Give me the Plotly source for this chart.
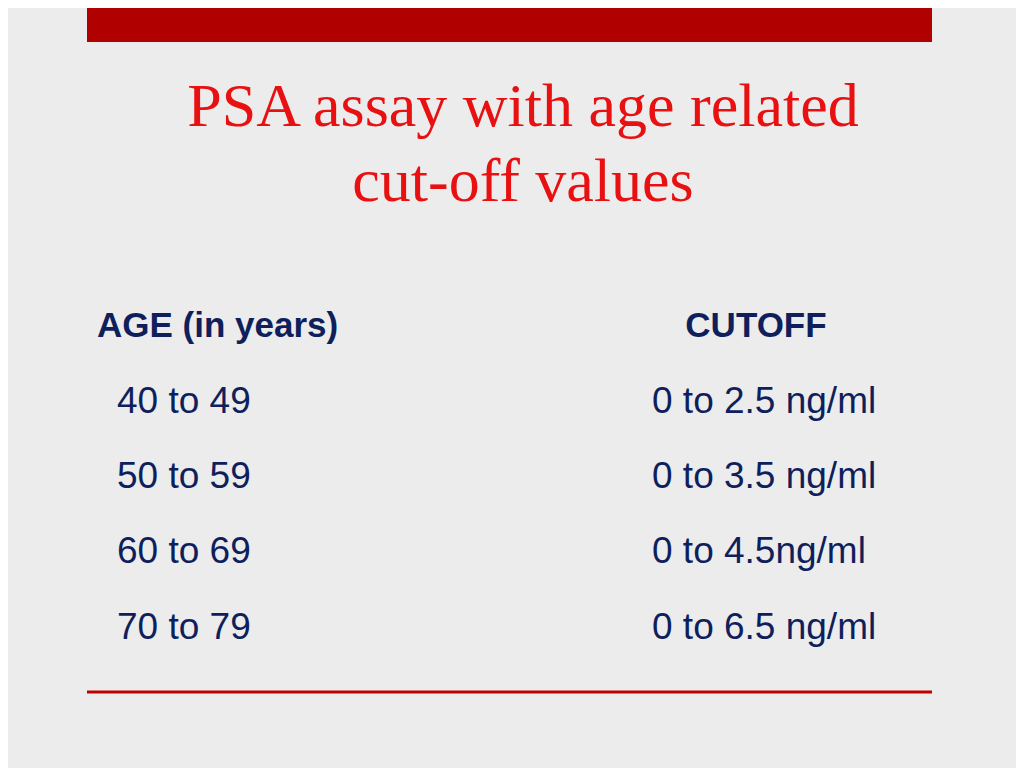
import plotly.graph_objects as go

title_lines = ["PSA assay with age related", "cut-off values"]
headers = ["AGE (in years)", "CUTOFF"]
ages = ["40 to 49", "50 to 59", "60 to 69", "70 to 79"]
cutoffs = ["0 to 2.5 ng/ml", "0 to 3.5 ng/ml", "0 to 4.5ng/ml", "0 to 6.5 ng/ml"]

off = 8
row_y = [402 - off + 2, 477 - off + 2, 552 - off + 2, 628 - off + 2]
navy = "#0f1f5c"
fs = 37

fig = go.Figure()
fig.add_trace(go.Scatter(x=[117 - off]*len(ages), y=row_y, text=ages, mode="text",
                         textposition="middle right",
                         textfont=dict(family="Liberation Sans", size=fs, color=navy),
                         hoverinfo="skip", showlegend=False))
fig.add_trace(go.Scatter(x=[652 - off]*len(cutoffs), y=row_y, text=cutoffs, mode="text",
                         textposition="middle right",
                         textfont=dict(family="Liberation Sans", size=fs, color=navy),
                         hoverinfo="skip", showlegend=False))
fig.add_trace(go.Scatter(x=[97 - off], y=[326 - off + 2], text=["<b>"+headers[0]+"</b>"], mode="text",
                         textposition="middle right",
                         textfont=dict(family="Liberation Sans", size=fs - 2, color=navy),
                         hoverinfo="skip", showlegend=False))
fig.add_trace(go.Scatter(x=[756 - off], y=[326 - off + 2], text=["<b>"+headers[1]+"</b>"], mode="text",
                         textposition="middle center",
                         textfont=dict(family="Liberation Sans", size=fs - 2, color=navy),
                         hoverinfo="skip", showlegend=False))
fig.add_trace(go.Scatter(x=[523 - off, 523 - off], y=[110 - off, 185 - off], text=title_lines, mode="text",
                         textposition="middle center",
                         textfont=dict(family="Liberation Serif", size=62, color="#e81010"),
                         hoverinfo="skip", showlegend=False))

fig.add_shape(type="rect", x0=87 - off, x1=932 - off, y0=-10, y1=42 - off, fillcolor="#b00000", line_width=0, layer="below")
fig.add_shape(type="line", x0=87 - off, x1=932 - off, y0=692 - off, y1=692 - off, line=dict(color="#c00000", width=3))

fig.update_layout(width=1024, height=768, margin=dict(l=0, r=0, t=0, b=0),
                  paper_bgcolor="#ececec", plot_bgcolor="#ececec",
                  xaxis=dict(range=[0, 1024], visible=False, fixedrange=True),
                  yaxis=dict(range=[768, 0], visible=False, fixedrange=True))
fig.write_html("out.html", config={"displayModeBar": False})
